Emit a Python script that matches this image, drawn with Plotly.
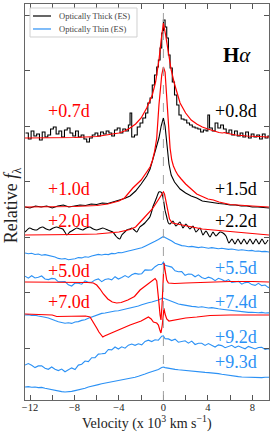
import plotly.graph_objects as go

# ---------------- data (velocity in 10^3 km/s, relative flux with offsets) ----------------
v_thick07 = [-12.4, -12.15, -11.9, -11.65, -11.4, -11.15, -10.9, -10.65, -10.4, -10.15,
             -9.9, -9.65, -9.4, -9.15, -8.9, -8.65, -8.4, -8.15, -7.9, -7.65,
             -7.4, -7.15, -6.9, -6.65, -6.4, -6.15, -5.9, -5.65, -5.4, -5.15,
             -4.9, -4.65, -4.4, -4.15, -3.9, -3.65, -3.4, -3.15,
             -3.0, -2.85, -2.6, -2.35, -2.1, -1.85, -1.6,
             -1.4, -1.2, -1.0, -0.8, -0.6,
             -0.45, -0.3, -0.15, 0.0, 0.15, 0.3, 0.45,
             0.6, 0.8, 1.0, 1.2, 1.4, 1.6,
             1.85, 2.1, 2.35, 2.6, 2.85, 3.1, 3.35, 3.6, 3.85,
             4.0, 4.15,
             4.4, 4.65, 4.9, 5.15, 5.4, 5.65, 5.9, 6.15, 6.4, 6.65,
             6.9, 7.15, 7.4, 7.65, 7.9, 8.15, 8.4, 8.65, 8.9, 9.15,
             9.4, 9.6]
f_thick07 = [26.7, 26.1, 26.9, 26.4, 26.6, 26.0, 26.8, 26.3, 26.5, 27.1,
             27.3, 26.6, 26.9, 26.3, 27.0, 27.2, 26.7, 26.4, 26.9, 26.3,
             26.5, 26.1, 25.8, 26.2, 26.5, 26.7, 26.4, 26.8, 26.6, 26.9,
             26.7, 26.4, 27.0, 27.2, 26.7, 27.1, 26.9, 27.5,
             28.7, 26.3, 26.5, 27.3, 27.7, 28.2, 28.7,
             29.7, 30.2, 31.5, 32.5, 33.3,
             34.0, 35.2, 36.7, 38.0, 37.3, 36.2, 34.5,
             33.2, 31.8, 30.5, 29.5, 28.5, 28.1,
             28.0, 27.7, 27.5, 27.3, 27.2, 27.1, 26.8, 27.0, 26.9,
             28.5, 27.2,
             26.9, 27.7, 27.2, 27.5, 27.1, 26.7, 27.0, 26.5, 26.9, 26.4,
             26.7, 26.3, 26.8, 26.2, 26.6, 26.3, 26.5, 26.1, 26.6, 26.2,
             26.4, 26.3]

v_model07 = [-12.45, -10, -8, -6, -5, -4, -3.5, -3, -2.5, -2,
             -1.5, -1.0, -0.7, -0.4, -0.2, 0, 0.2, 0.4, 0.7, 1.0,
             1.5, 2.0, 2.5, 3.0, 3.5, 4, 4.5, 5, 5.3, 5.5,
             5.8, 6.5, 7.5, 8.5, 9.5]
f_model07 = [26.2, 26.2, 26.25, 26.35, 26.5, 26.7, 26.9, 27.2, 27.6, 28.2,
             29.2, 30.5, 31.8, 34.0, 36.0, 37.7, 36.5, 35.0, 33.0, 31.6,
             29.7, 28.7, 28.0, 27.6, 27.3, 27.1, 26.9, 26.75, 26.7, 26.75,
             26.65, 26.5, 26.4, 26.35, 26.3]

v_thick10 = [-12.45, -12, -11.5, -11, -10.5, -10, -9.5, -9, -8.5, -8,
             -7.5, -7, -6.5, -6, -5.5, -5, -4.5, -4, -3.5, -3,
             -2.5, -2, -1.5, -1.2, -1.0, -0.8, -0.6, -0.4, -0.2, 0,
             0.15, 0.3, 0.5, 0.7, 1.0, 1.5, 2.0, 2.5, 3, 3.5,
             4, 4.5, 5, 5.5, 6, 6.5, 7, 7.5, 8, 8.5,
             9, 9.5]
f_thick10 = [19.3, 19.2, 19.4, 19.3, 19.4, 19.2, 19.4, 19.5, 19.3, 19.4,
             19.5, 19.45, 19.6, 19.55, 19.7, 19.65, 19.8, 20.0, 20.15, 20.4,
             20.9, 21.6, 22.4, 23.1, 23.9, 24.6, 25.3, 26.2, 27.4, 28.2,
             27.4, 25.8, 23.6, 22.5, 21.8, 21.1, 20.7, 20.4, 20.2, 19.9,
             19.8, 19.75, 19.65, 19.6, 19.5, 19.5, 19.4, 19.4, 19.3, 19.3,
             19.25, 19.2]

v_model10 = [-12.45, -10, -8, -6, -5, -4, -3.5, -2.75, -2, -1.5,
             -1.2, -1.0, -0.8, -0.6, -0.4, -0.15, 0, 0.15, 0.3, 0.45,
             0.6, 0.75, 0.9, 1.1, 1.3, 1.6, 2.0, 2.5, 3.0, 3.5,
             4, 4.5, 5, 6, 7, 8, 9.5]
f_model10 = [19.3, 19.3, 19.35, 19.45, 19.6, 19.9, 20.2, 21.2, 22.0, 22.8,
             23.3, 23.9, 24.8, 26.2, 29.5, 32.5, 33.3, 32.8, 30.2, 27.5,
             25.2, 24.0, 23.4, 22.9, 22.5, 22.1, 21.6, 21.1, 20.6, 20.35,
             20.1, 20.0, 19.8, 19.55, 19.45, 19.4, 19.3]

v_thick20 = [-12.45, -12.03, -11.71, -11.40, -11.13, -10.86, -10.54, -10.23, -9.91, -9.59,
             -9.32, -9.05, -8.87, -8.69, -8.42, -8.11, -7.79, -7.52, -7.25, -6.94,
             -6.62, -6.31, -5.99, -5.72, -5.45, -5.00, -4.55, -4.28, -4.10, -3.92,
             -3.74, -3.47, -3.29, -3.02, -2.84, -2.61, -2.39, -2.12, -1.89, -1.67,
             -1.44, -1.22, -1.04, -0.95, -0.77, -0.59, -0.41, -0.23, -0.14, -0.05,
             0.05, 0.14, 0.23, 0.32, 0.45, 0.59, 0.86, 1.13, 1.49, 1.76,
             2.03, 2.39, 2.66, 2.93, 3.29, 3.56, 3.83, 4.19, 4.46, 4.73,
             5.09, 5.36, 5.63, 5.90, 6.17, 6.44, 6.71, 6.98, 7.25, 7.52,
             7.79, 8.06, 8.33, 8.60, 8.87, 9.14, 9.41]
f_thick20 = [16.8, 17.2, 17.05, 17.0, 17.2, 17.3, 17.1, 17.0, 17.2, 17.3,
             17.2, 17.1, 16.8, 16.5, 16.8, 17.0, 17.2, 17.1, 17.0, 17.2,
             17.3, 17.1, 17.0, 17.1, 17.2, 17.0, 16.8, 16.4, 16.2, 16.1,
             16.5, 16.8, 17.0, 17.1, 17.2, 17.0, 16.8, 17.3, 17.5, 17.7,
             18.0, 18.3, 18.9, 19.3, 19.8, 20.3, 20.8, 20.8, 20.7, 20.3,
             19.7, 19.0, 18.6, 18.2, 17.7, 17.6, 17.9, 17.4, 17.8, 17.2,
             17.6, 17.1, 17.4, 16.8, 17.2, 16.5, 16.9, 16.3, 16.8, 16.4,
             16.8, 16.7, 16.4, 15.7, 16.1, 15.6, 16.1, 15.6, 16.1, 15.6,
             16.1, 15.6, 16.1, 15.6, 16.1, 15.6, 16.0]

v_model20 = [-12.45, -10, -8, -6, -5, -4, -3, -2.5, -2, -1.5,
             -1.0, -0.7, -0.4, -0.15, 0, 0.1, 0.2, 0.35, 0.55, 0.8,
             1.2, 1.8, 2.5, 3.5, 4.5, 6, 8, 9.5]
f_model20 = [16.5, 16.5, 16.55, 16.6, 16.7, 16.8, 17.05, 17.3, 17.9, 18.5,
             19.1, 19.6, 20.1, 20.6, 20.8, 20.6, 20.0, 19.0, 18.1, 17.7,
             17.6, 17.5, 17.3, 17.1, 17.0, 16.85, 16.65, 16.5]

v_thin = [-12.45, -12.15, -11.85, -11.55, -11.25, -10.95, -10.65, -10.35, -10.05, -9.75,
          -9.45, -9.15, -8.85, -8.55, -8.25, -7.95, -7.65, -7.35, -7.05, -6.75,
          -6.45, -6.15, -5.85, -5.55, -5.25, -4.95, -4.65, -4.35, -4.05, -3.75,
          -3.45, -3.15, -2.85, -2.55, -2.25, -1.95, -1.65, -1.35, -1.05, -0.75,
          -0.45, -0.15, 0.0, 0.15, 0.45, 0.75, 1.05, 1.35, 1.65, 1.95,
          2.25, 2.55, 2.85, 3.15, 3.45, 3.75, 4.05, 4.35, 4.65, 4.95,
          5.25, 5.55, 5.85, 6.15, 6.45, 6.75, 7.05, 7.35, 7.65, 7.95,
          8.25, 8.55, 8.85, 9.15, 9.45, 9.6]
f_thin_a = [14.70, 14.62, 14.68, 14.55, 14.60, 14.48, 14.54, 14.45, 14.42, 14.30,
            14.16, 14.10, 14.14, 14.02, 14.08, 14.12, 14.24, 14.21, 14.32, 14.28,
            14.40, 14.48, 14.56, 14.50, 14.58, 14.54, 14.66, 14.62, 14.74, 14.72,
            14.84, 14.90, 14.98, 15.06, 15.14, 15.22, 15.38, 15.52, 15.70, 15.88,
            16.06, 16.28, 16.35, 16.26, 16.12, 15.90, 15.68, 15.56, 15.44, 15.40,
            15.32, 15.36, 15.28, 15.24, 15.30, 15.22, 15.18, 15.24, 15.16, 15.12,
            15.18, 15.10, 15.06, 15.10, 15.02, 14.98, 15.02, 14.96, 14.92, 14.96,
            14.88, 14.90, 14.84, 14.86, 14.80, 14.78]
f_thin_55 = [12.38, 12.18, 12.43, 12.20, 12.27, 12.40, 12.10, 12.04, 12.16, 12.12,
             11.82, 11.82, 11.85, 11.52, 11.40, 11.70, 11.68, 11.58, 11.91, 11.78,
             11.78, 12.01, 12.11, 11.84, 12.05, 12.12, 12.02, 12.33, 12.10, 12.25,
             12.44, 12.26, 12.53, 12.66, 12.59, 12.63, 13.01, 12.99, 13.00, 13.33,
             13.55, 13.55, 13.80, 13.48, 13.41, 13.29, 12.92, 12.83, 12.84, 12.47,
             12.59, 12.58, 12.32, 12.52, 12.26, 12.13, 12.28, 12.17, 11.94, 12.17,
             12.06, 11.87, 12.04, 11.75, 11.80, 11.86, 11.58, 11.74, 11.77, 11.54,
             11.46, 11.67, 11.44, 11.50, 11.24, 11.38]
f_thin_74 = [8.50, 8.54, 8.46, 8.48, 8.40, 8.36, 8.28, 8.20, 8.04, 7.94,
             7.82, 7.74, 7.68, 7.72, 7.66, 7.80, 7.84, 7.96, 8.02, 8.18,
             8.30, 8.44, 8.52, 8.66, 8.70, 8.78, 8.80, 8.90, 8.92, 9.00,
             9.04, 9.14, 9.20, 9.32, 9.40, 9.52, 9.64, 9.72, 9.80, 9.88,
             10.00, 10.14, 10.20, 10.12, 9.98, 9.82, 9.74, 9.60, 9.54, 9.46,
             9.42, 9.36, 9.34, 9.28, 9.32, 9.24, 9.20, 9.24, 9.16, 9.12,
             9.08, 9.04, 8.98, 8.94, 8.90, 8.84, 8.80, 8.82, 8.76, 8.78,
             8.74, 8.72, 8.76, 8.70, 8.72, 8.70]
f_thin_92 = [3.50, 3.65, 3.48, 3.24, 3.41, 3.42, 3.18, 3.07, 3.30, 3.07,
             2.94, 3.09, 2.82, 3.03, 3.21, 3.05, 3.49, 3.58, 3.90, 3.84,
             4.23, 4.24, 4.59, 4.62, 4.66, 5.05, 5.01, 5.30, 5.10, 5.32,
             5.18, 5.48, 5.59, 5.47, 5.62, 5.52, 5.86, 5.98, 5.84, 6.02,
             5.98, 6.38, 6.42, 6.12, 6.11, 5.94, 6.08, 5.78, 5.88, 5.92,
             5.69, 5.89, 5.55, 5.68, 5.68, 5.46, 5.64, 5.46, 5.30, 5.51,
             5.44, 5.23, 5.36, 5.47, 5.24, 5.40, 5.24, 5.12, 5.36, 5.23,
             5.10, 5.25, 5.28, 5.06, 5.14, 4.99]
f_thin_93 = [1.30, 1.34, 1.28, 1.30, 1.24, 1.26, 1.18, 1.10, 1.02, 0.96,
             0.88, 0.84, 0.80, 0.82, 0.86, 0.94, 1.00, 1.10, 1.18, 1.30,
             1.40, 1.48, 1.54, 1.62, 1.68, 1.74, 1.80, 1.86, 1.92, 2.00,
             2.04, 2.14, 2.20, 2.28, 2.38, 2.46, 2.60, 2.72, 2.82, 2.94,
             3.06, 3.24, 3.30, 3.24, 3.16, 3.10, 3.06, 3.02, 2.98, 2.94,
             2.92, 2.88, 2.86, 2.82, 2.80, 2.76, 2.74, 2.72, 2.68, 2.64,
             2.58, 2.52, 2.48, 2.42, 2.38, 2.34, 2.30, 2.28, 2.26, 2.24,
             2.26, 2.22, 2.24, 2.28, 2.26, 2.28]

v_model50 = [-12.45, -10, -8, -6.8, -6.3, -6.0, -5.7, -5.4, -5.0, -4.6,
             -4.2, -3.8, -3.2, -2.6, -2.1, -1.5, -0.95, -0.75, -0.6, -0.5,
             -0.4, -0.3, -0.22, -0.12, -0.05, 0.05, 0.15, 0.3, 0.45, 1.0,
             2.0, 4.0, 6.0, 8.0, 9.5]
f_model50 = [11.8, 11.8, 11.8, 11.75, 11.7, 11.5, 11.1, 10.6, 10.1, 9.8,
             9.7, 9.75, 10.0, 10.35, 11.0, 11.5, 12.0, 12.15, 11.9, 11.0,
             9.7, 8.5, 8.0, 9.5, 12.2, 13.7, 13.0, 12.0, 11.7, 11.65,
             11.7, 11.8, 11.85, 11.85, 11.8]

v_model70 = [-12.45, -11, -10, -9.6, -9, -8, -7, -6.6, -6.3, -6.0,
             -5.8, -5.6, -5.45, -5.3, -5.0, -4.5, -4, -3, -2, -1.5,
             -1.35, -1.1, -0.9, -0.6, -0.45, -0.32, -0.22, -0.1, 0.0, 0.05,
             0.15, 0.3, 0.5, 1.0, 2.0, 3.0, 4.2, 6.0, 9.5]
f_model70 = [8.6, 8.55, 8.5, 8.35, 8.35, 8.35, 8.4, 8.3, 7.8, 7.2,
             6.8, 6.5, 6.3, 6.4, 6.55, 6.8, 7.05, 7.5, 7.9, 8.15,
             8.3, 8.1, 7.8, 7.7, 7.5, 7.0, 6.7, 7.5, 8.8, 9.2,
             8.6, 8.1, 7.9, 8.0, 8.2, 8.3, 8.45, 8.5, 8.5]

# epoch labels
left_labels = ["+0.7d", "+1.0d", "+2.0d", "+5.0d", "+7.0d"]
left_label_y = [28.9, 21.1, 17.9, 12.9, 9.8]
right_labels = ["+0.8d", "+1.5d", "+2.2d", "+5.5d", "+7.4d", "+9.2d", "+9.3d"]
right_label_y = [28.9, 21.1, 17.9, 13.2, 9.8, 6.3, 3.8]
right_label_kind = ["thick", "thick", "thick", "thin", "thin", "thin", "thin"]

x_tickvals = [-12, -8, -4, 0, 4, 8]
x_ticktext = ["\u221212", "\u22128", "\u22124", "0", "4", "8"]
x_minor_ticks = [-10, -6, -2, 2, 6]

# ---------------- styling ----------------
BLACK = "#000000"
RED = "#ff0000"
BLUE = "#2b91f5"
FONT = "Liberation Serif"

fig = go.Figure()

for f in [f_thin_a, f_thin_55, f_thin_74, f_thin_92, f_thin_93]:
    fig.add_trace(go.Scatter(x=v_thin, y=f, mode="lines",
                             line=dict(color=BLUE, width=1.1), showlegend=False,
                             hoverinfo="skip"))

fig.add_trace(go.Scatter(x=v_thick07, y=f_thick07, mode="lines",
                         line=dict(color=BLACK, width=1.1, shape="hv"), showlegend=False))
fig.add_trace(go.Scatter(x=v_thick10, y=f_thick10, mode="lines",
                         line=dict(color=BLACK, width=1.1), showlegend=False))
fig.add_trace(go.Scatter(x=v_thick20, y=f_thick20, mode="lines",
                         line=dict(color=BLACK, width=1.1, shape="spline", smoothing=0.6),
                         showlegend=False))

for vx, fy in [(v_model07, f_model07), (v_model10, f_model10), (v_model20, f_model20),
               (v_model50, f_model50), (v_model70, f_model70)]:
    fig.add_trace(go.Scatter(x=vx, y=fy, mode="lines",
                             line=dict(color=RED, width=1.2), showlegend=False))

annotations = []
for t, y in zip(left_labels, left_label_y):
    annotations.append(dict(x=-8.5, y=y, xref="x", yref="y", text=t, showarrow=False,
                            font=dict(family=FONT, size=18, color=RED),
                            xanchor="center", yanchor="middle"))
for t, y, k in zip(right_labels, right_label_y, right_label_kind):
    annotations.append(dict(x=6.5, y=y, xref="x", yref="y", text=t, showarrow=False,
                            font=dict(family=FONT, size=18, color=BLACK if k == "thick" else BLUE),
                            xanchor="center", yanchor="middle"))
annotations.append(dict(x=6.65, y=34.5, xref="x", yref="y", text="<b>H</b><i>\u03b1</i>",
                        showarrow=False, font=dict(family=FONT, size=21, color="black"),
                        xanchor="center", yanchor="middle"))
annotations.append(dict(x=0.5, y=-0.057, xref="paper", yref="paper",
                        text="Velocity (x 10<sup>3</sup> km s<sup>\u22121</sup>)",
                        showarrow=False, font=dict(family=FONT, size=14, color="#222"),
                        xanchor="center", yanchor="middle"))
annotations.append(dict(x=-0.053, y=0.492, xref="paper", yref="paper",
                        text="Relative <i>f</i><sub>\u03bb</sub>", textangle=-90,
                        showarrow=False, font=dict(family=FONT, size=18, color="#222"),
                        xanchor="center", yanchor="middle"))
annotations.append(dict(x=0.131, y=0.9697, xref="paper", yref="paper", text="Optically Thick (ES)",
                        showarrow=False, font=dict(family=FONT, size=8.5, color="#444"),
                        xanchor="left", yanchor="middle"))
annotations.append(dict(x=0.131, y=0.9369, xref="paper", yref="paper", text="Optically Thin (ES)",
                        showarrow=False, font=dict(family=FONT, size=8.5, color="#444"),
                        xanchor="left", yanchor="middle"))

shapes = [
    dict(type="line", xref="x", yref="paper", x0=0, x1=0, y0=0, y1=1,
         line=dict(color="#a0a0a0", width=1, dash="dash"), layer="above"),
    dict(type="rect", xref="paper", yref="paper", x0=0.0205, x1=0.459, y0=0.9167, y1=0.9899,
         line=dict(color="#d0d0d0", width=1), fillcolor="rgba(255,255,255,0.85)", layer="above"),
    dict(type="line", xref="paper", yref="paper", x0=0.0328, x1=0.1066, y0=0.9697, y1=0.9697,
         line=dict(color=BLACK, width=1.2), layer="above"),
    dict(type="line", xref="paper", yref="paper", x0=0.0328, x1=0.1066, y0=0.9369, y1=0.9369,
         line=dict(color=BLUE, width=1.2), layer="above"),
]

fig.update_layout(
    width=274, height=434,
    margin=dict(l=25, r=5, t=4, b=34),
    paper_bgcolor="white", plot_bgcolor="white",
    showlegend=False,
    annotations=annotations, shapes=shapes,
    font=dict(family=FONT, color="#222"),
)
fig.update_xaxes(range=[-12.45, 9.5], tickvals=x_tickvals, ticktext=x_ticktext,
                 ticks="inside", ticklen=5, tickwidth=1, tickcolor="#555",
                 minor=dict(tickvals=x_minor_ticks, ticks="inside", ticklen=5,
                            tickwidth=1, tickcolor="#555", showgrid=False),
                 showline=True, linecolor="#666", linewidth=1, mirror="allticks",
                 showgrid=False, zeroline=False, ticklabelstandoff=-3,
                 tickfont=dict(family=FONT, size=10.5, color="#222"))
fig.update_yaxes(range=[0, 39.6], tick0=5.2, dtick=5.55, showticklabels=False,
                 ticks="inside", ticklen=5, tickwidth=1, tickcolor="#555",
                 showline=True, linecolor="#666", linewidth=1, mirror="allticks",
                 showgrid=False, zeroline=False)

fig.write_html("out.html", config={"displayModeBar": False},
               post_script="document.body.style.margin='0px';document.body.style.overflow='hidden';")
